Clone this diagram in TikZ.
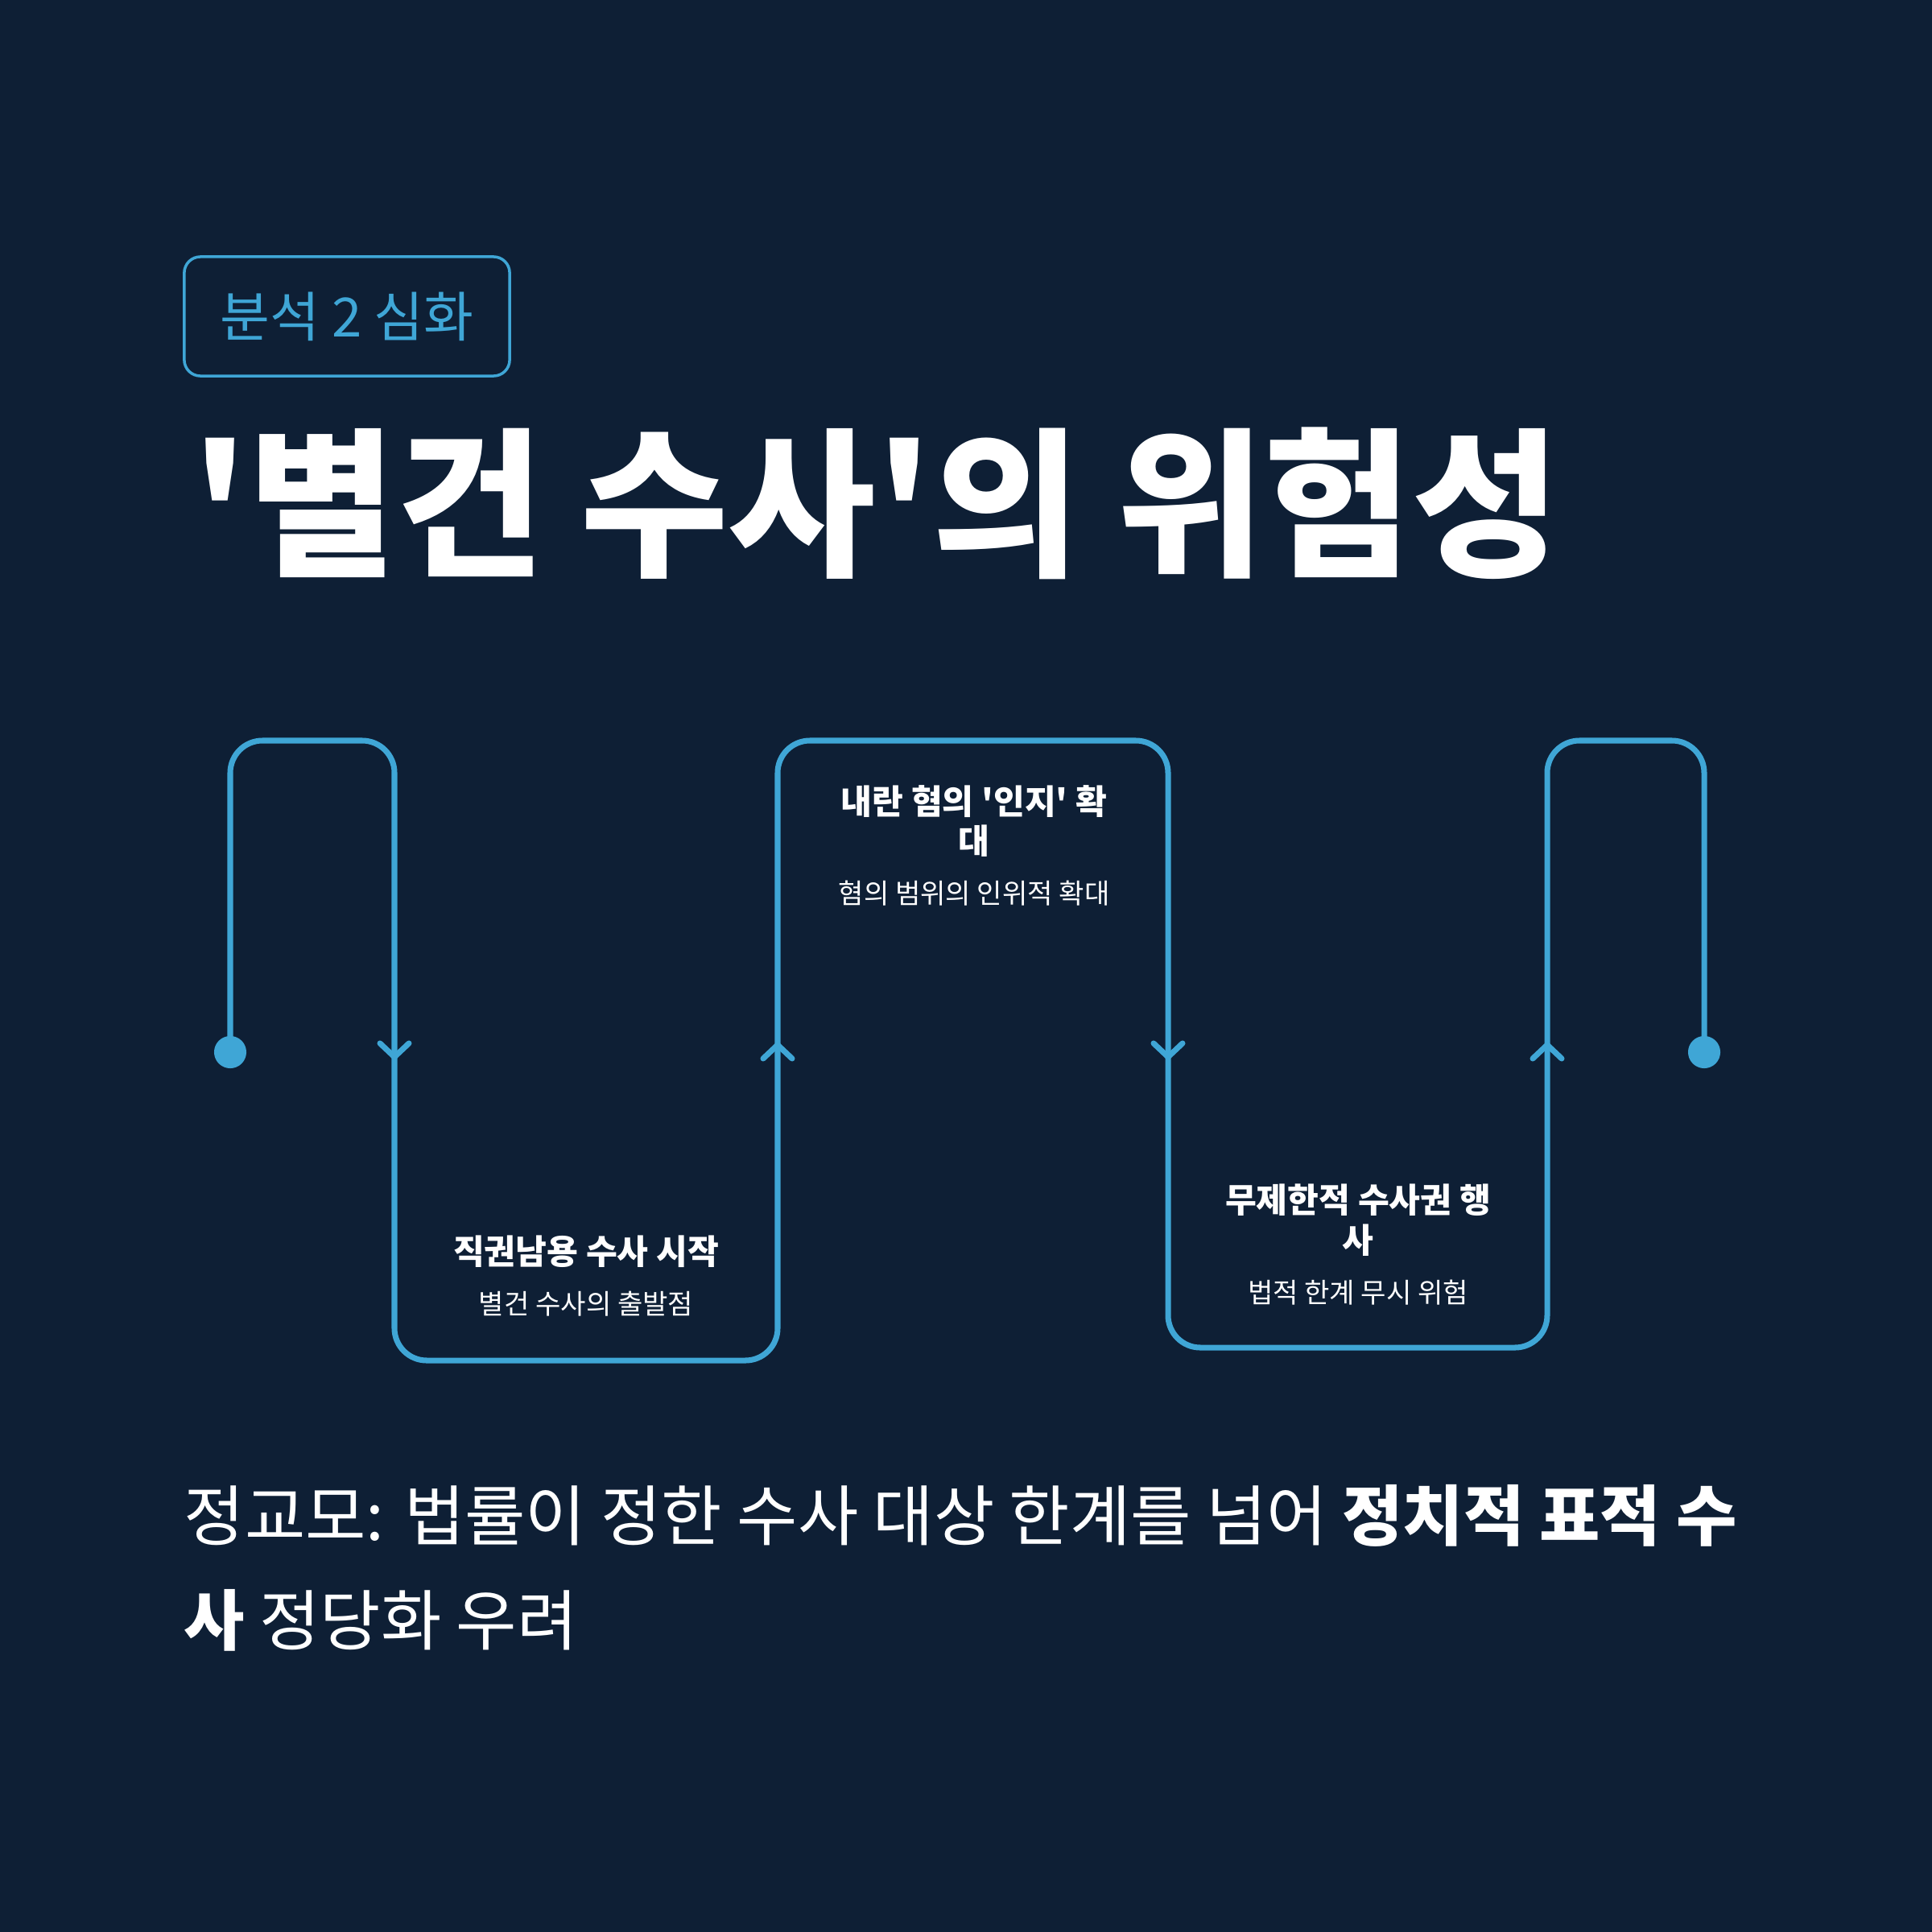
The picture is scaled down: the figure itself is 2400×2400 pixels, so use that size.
\documentclass[tikz,border=0pt]{standalone}
\usepackage{fontspec}
\setmainfont{Noto Sans CJK KR}[Ligatures=TeXOff]
\usetikzlibrary{positioning,calc}
\definecolor{rkbg}{HTML}{0E1F35}
\definecolor{rkblue}{HTML}{3FA6D6}
\tikzset{
  flow/.style={draw=rkblue,line width=2pt,rounded corners=0.4cm},
  chev/.style={draw=rkblue,line width=2pt,line cap=round},
  dot/.style={circle,fill=rkblue,inner sep=0pt,minimum size=11.4pt},
  head/.style={text=white,font=\fontsize{12}{14.2}\selectfont\bfseries,align=center,inner sep=0pt},
  sub/.style={text=white,font=\fontsize{9.7}{11.5}\selectfont,align=center,inner sep=0pt},
}
\begin{document}
\begin{tikzpicture}[x=0.01cm,y=-0.01cm]
  \fill[rkbg] (0,0) rectangle (2400,2400);
  \useasboundingbox (0,0) rectangle (2400,2400);
  % tag and title
  \node[draw=rkblue,line width=1pt,rounded corners=0.2cm,minimum width=4.04cm,minimum height=1.48cm,text=rkblue,font=\fontsize{19.1}{23}\selectfont] (tag) at (431,393) {분석 2 심화};
  \node[anchor=west,text=white,font=\fontsize{56.7}{62}\selectfont\bfseries,inner sep=0pt] (title) at (238,625) {'별건 수사'의 위험성};
  % the winding line
  \node[dot] (start) at (286,1307) {};
  \node[dot] (finish) at (2117,1307) {};
  \coordinate (a1) at (490,1313);
  \coordinate (a2) at (966,1298);
  \coordinate (a3) at (1451,1313);
  \coordinate (a4) at (1922,1298);
  \draw[flow] (start.center) -- (286,920) -- (490,920) -- (a1) -- (490,1690) -- (966,1690) -- (a2) -- (966,920) -- (1451,920) -- (a3) -- (1451,1674) -- (1922,1674) -- (a4) -- (1922,920) -- (2117,920) -- (finish.center);
  \draw[chev] ($(a1)+(-18,-17)$) -- (a1) -- ($(a1)+(18,-17)$);
  \draw[chev] ($(a2)+(-18,17)$) -- (a2) -- ($(a2)+(18,17)$);
  \draw[chev] ($(a3)+(-18,-17)$) -- (a3) -- ($(a3)+(18,-17)$);
  \draw[chev] ($(a4)+(-18,17)$) -- (a4) -- ($(a4)+(18,17)$);
  % steps
  \node[head] (h1) at (728,1555) {직권남용 수사 시작};
  \node[sub,below=8pt of h1] (s1) {별건 수사의 출발점};
  \node[head] (h2) at (1210,1020) {내란 혐의 '인지' 확\\대};
  \node[sub,below=8pt of h2] (s2) {혐의 범위의 인위적 확대};
  \node[head] (h3) at (1687,1516) {무제한적 수사권 행\\사};
  \node[sub,below=8pt of h3] (s3) {법적 한계 무시 위험};
  % note
  \node[anchor=north west,align=left,text=white,font=\fontsize{23.3}{37}\selectfont,inner sep=0pt] (note) at (228,1844) {정교모: 법률이 정한 수사 대상 한계를 넘어 \textbf{정치적 표적 수}\\\textbf{사} 정당화 우려};
\end{tikzpicture}
\end{document}
